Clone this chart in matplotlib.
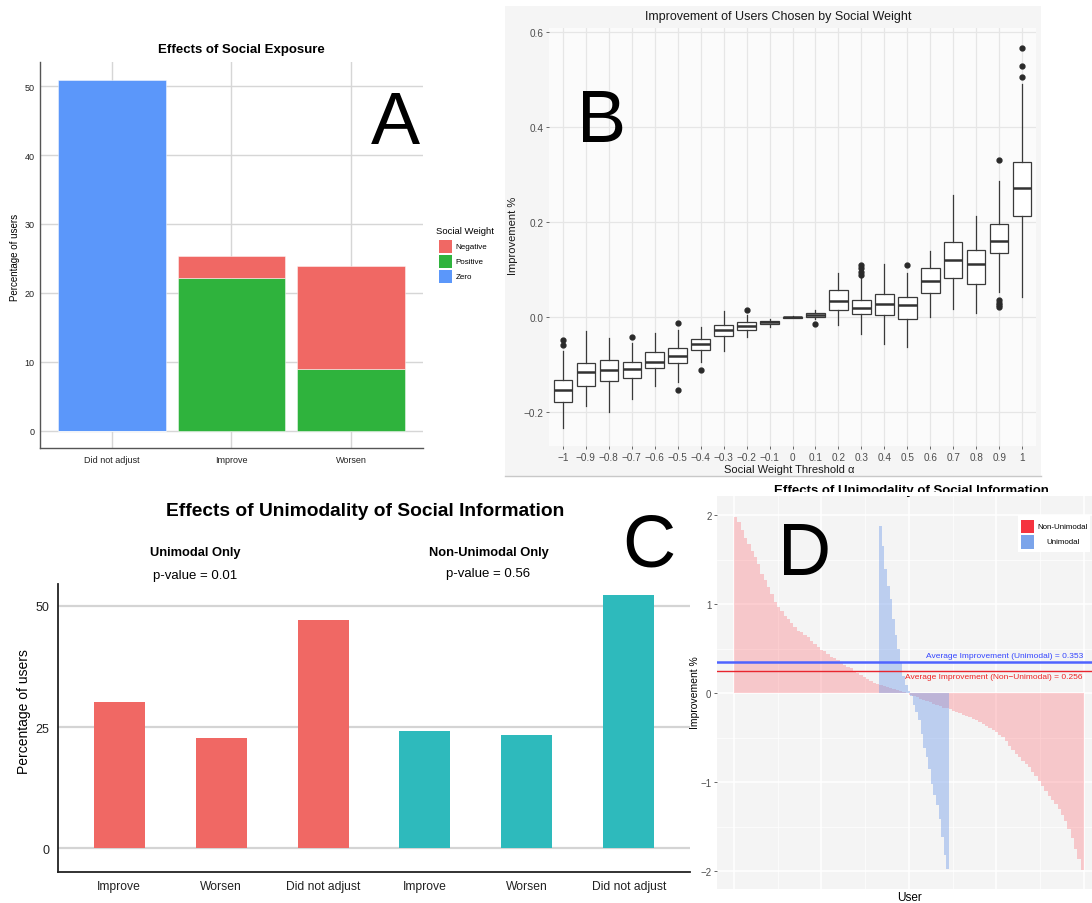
import numpy as np
import matplotlib
matplotlib.use('Agg')
import matplotlib.pyplot as plt
from matplotlib.patches import Rectangle
from matplotlib.lines import Line2D

W, H = 1092, 904
SANS = ['Liberation Sans', 'DejaVu Sans']
plt.rcParams['font.family'] = SANS

# ---------------- data ----------------
# Panel A
a_categories = ['Did not adjust', 'Improve', 'Worsen']
a_zero = [50.9, 0.0, 0.0]
a_positive = [0.0, 22.2, 9.0]
a_negative = [0.0, 3.1, 14.9]
a_yticks = [0, 10, 20, 30, 40, 50]
a_legend = ['Negative', 'Positive', 'Zero']

# Panel B (box plot statistics per threshold)
b_labels = ['−1', '−0.9', '−0.8', '−0.7', '−0.6', '−0.5', '−0.4', '−0.3', '−0.2', '−0.1',
            '0', '0.1', '0.2', '0.3', '0.4', '0.5', '0.6', '0.7', '0.8', '0.9', '1']
b_whishi = [-0.070, -0.029, -0.044, -0.054, -0.034, -0.027, -0.020, 0.013, 0.005, -0.004,
            0.002, 0.016, 0.094, 0.085, 0.112, 0.094, 0.140, 0.257, 0.213, 0.286, 0.491]
b_q3 = [-0.132, -0.097, -0.090, -0.095, -0.073, -0.064, -0.046, -0.016, -0.009, -0.008,
        0.001, 0.008, 0.057, 0.037, 0.050, 0.042, 0.103, 0.159, 0.141, 0.196, 0.327]
b_med = [-0.154, -0.116, -0.112, -0.109, -0.094, -0.081, -0.056, -0.027, -0.018, -0.011,
         0.000, 0.005, 0.034, 0.019, 0.027, 0.026, 0.076, 0.120, 0.112, 0.161, 0.272]
b_q1 = [-0.178, -0.144, -0.134, -0.128, -0.106, -0.096, -0.069, -0.040, -0.026, -0.015,
        -0.001, 0.000, 0.016, 0.007, 0.004, -0.003, 0.052, 0.082, 0.070, 0.136, 0.213]
b_whislo = [-0.234, -0.186, -0.199, -0.172, -0.144, -0.136, -0.094, -0.071, -0.041, -0.020,
            -0.002, -0.004, -0.016, -0.036, -0.056, -0.062, 0.001, 0.017, 0.010, 0.054, 0.043]
b_fliers = [[-0.048, -0.058], [], [], [-0.041], [], [-0.013, -0.153], [-0.110], [], [0.015], [],
            [], [-0.014], [], [0.110, 0.103, 0.096, 0.089], [], [0.110], [], [], [],
            [0.331, 0.036, 0.031, 0.026, 0.021], [0.566, 0.528, 0.505]]
b_yticks = [-0.2, 0.0, 0.2, 0.4, 0.6]
b_yticklabels = ['−0.2', '0.0', '0.2', '0.4', '0.6']

# Panel C
c_outcomes = ['Improve', 'Worsen', 'Did not adjust']
c_unimodal = [30.1, 22.8, 47.0]
c_nonunimodal = [24.2, 23.4, 52.3]
c_yticks = [0, 25, 50]

# Panel D (sorted improvement per user)
d_nonunimodal = [1.98, 1.92, 1.83, 1.75, 1.68, 1.60, 1.53, 1.45, 1.34, 1.27, 1.19, 1.12, 1.03,
                 0.97, 0.92, 0.87, 0.84, 0.79, 0.74, 0.70, 0.69, 0.66, 0.63, 0.59, 0.55, 0.52,
                 0.49, 0.47, 0.44, 0.41, 0.40, 0.37, 0.35, 0.32, 0.30, 0.28, 0.25, 0.23, 0.21,
                 0.18, 0.16, 0.14, 0.12, 0.10, 0.09, 0.08, 0.07, 0.06, 0.045, 0.035, 0.026,
                 0.019, 0.008,
                 -0.015, -0.03, -0.045, -0.06, -0.07, -0.085, -0.10, -0.115, -0.13, -0.145,
                 -0.16, -0.17, -0.18, -0.195, -0.21, -0.225, -0.24, -0.255, -0.27, -0.285,
                 -0.30, -0.32, -0.34, -0.365, -0.39, -0.415, -0.44, -0.465, -0.49, -0.54,
                 -0.59, -0.635, -0.68, -0.72, -0.76, -0.795, -0.83, -0.88, -0.93, -0.985,
                 -1.04, -1.095, -1.15, -1.195, -1.24, -1.30, -1.37, -1.44, -1.52, -1.63,
                 -1.75, -1.86, -1.99]
d_unimodal = [1.88, 1.66, 1.40, 1.21, 1.06, 0.84, 0.65, 0.50, 0.35, 0.20, 0.09, 0.03, -0.03,
              -0.13, -0.21, -0.30, -0.46, -0.61, -0.72, -0.85, -1.02, -1.14, -1.25, -1.41,
              -1.62, -1.82, -1.97]
d_avg_unimodal = 0.353
d_avg_nonunimodal = 0.256
d_yticks = [-2, -1, 0, 1, 2]
d_yticklabels = ['−2', '−1', '0', '1', '2']

# ---------------- helpers ----------------
fig = plt.figure(figsize=(W / 100, H / 100), dpi=100)


def box(x0, y0, x1, y1):
    return [x0 / W, 1 - y1 / H, (x1 - x0) / W, (y1 - y0) / H]


def ftext(x, y, s, **kw):
    return fig.text(x / W, 1 - y / H, s, **kw)


def frect(x0, y0, x1, y1, color, z=10, **kw):
    r = Rectangle((x0 / W, 1 - y1 / H), (x1 - x0) / W, (y1 - y0) / H,
                  transform=fig.transFigure, facecolor=color, edgecolor='none', zorder=z, **kw)
    fig.patches.append(r)
    return r


# ---------------- Panel A ----------------
colA = {'Negative': '#F06864', 'Positive': '#2FB33D', 'Zero': '#5B97FA'}
axA = fig.add_axes(box(40, 63, 423, 449))
xa = np.arange(len(a_categories))
ek = dict(edgecolor=(1, 1, 1, 0.55), linewidth=0.6, zorder=2)
axA.bar(xa, a_zero, 0.9, color=colA['Zero'], **ek)
axA.bar(xa, a_positive, 0.9, color=colA['Positive'], **ek)
axA.bar(xa, a_negative, 0.9, bottom=a_positive, color=colA['Negative'], **ek)
axA.set_xlim(-0.6, 2.6)
axA.set_ylim(-2.5, 53.5)
axA.set_yticks(a_yticks)
axA.set_xticks(xa, a_categories)
axA.grid(True, color='#D6D6D6', lw=1.0, zorder=0)
axA.set_axisbelow(True)
axA.tick_params(length=0, labelsize=6.5, colors='#222222')
axA.tick_params(axis='y', pad=4)
axA.tick_params(axis='x', pad=5)
for s in ['top', 'right']:
    axA.spines[s].set_visible(False)
for s in ['left', 'bottom']:
    axA.spines[s].set_color('#555555')
    axA.spines[s].set_linewidth(1.0)
ftext(241, 50, 'Effects of Social Exposure', ha='center', va='center', fontsize=9.5, fontweight='bold')
ftext(15, 257, 'Percentage of users', ha='center', va='center', rotation=90, fontsize=7)
ftext(395, 144.3, 'A', ha='center', va='baseline', fontsize=53)
# legend A
ftext(436, 232, 'Social Weight', ha='left', va='center', fontsize=6.8)
for i, lab in enumerate(a_legend):
    y0 = 240.7 + i * 15
    frect(439, y0, 452, y0 + 13, colA[lab])
    ftext(455.5, y0 + 6.5, lab, ha='left', va='center', fontsize=5.8)

# ---------------- Panel B ----------------
frect(505, 7, 1041, 477, '#F5F5F5', z=-5)
fig.lines.append(Line2D([505 / W, 1041 / W], [1 - 477 / H] * 2, transform=fig.transFigure,
                        color='#C8C8C8', lw=1.0))
axB = fig.add_axes(box(549, 28.5, 1036, 447))
axB.set_facecolor('#FBFBFB')
stats = [dict(med=b_med[i], q1=b_q1[i], q3=b_q3[i], whislo=b_whislo[i], whishi=b_whishi[i],
              fliers=b_fliers[i]) for i in range(len(b_labels))]
xb = np.arange(len(b_labels))
axB.bxp(stats, positions=xb, widths=0.8, patch_artist=True, showcaps=False,
        boxprops=dict(facecolor='white', edgecolor='#3A3A3A', linewidth=0.9),
        medianprops=dict(color='#333333', linewidth=1.8),
        whiskerprops=dict(color='#3A3A3A', linewidth=0.9),
        flierprops=dict(marker='o', markerfacecolor='#2A2A2A', markeredgecolor='#2A2A2A',
                        markersize=3.5))
axB.set_xlim(-0.6, 20.6)
axB.set_ylim(-0.271, 0.610)
axB.set_xticks(xb, b_labels)
axB.set_yticks(b_yticks, b_yticklabels)
axB.grid(True, color='#E6E6E6', lw=0.9)
axB.set_axisbelow(True)
for s in axB.spines.values():
    s.set_visible(False)
axB.tick_params(length=2.5, width=0.7, color='#666666', labelsize=7.2, labelcolor='#4D4D4D', pad=1.5)
ftext(778, 17, 'Improvement of Users Chosen by Social Weight', ha='center', va='center',
      fontsize=9, color='#1A1A1A')
ftext(513, 236, 'Improvement %', ha='center', va='center', rotation=90, fontsize=8, color='#1A1A1A')
ftext(789, 470, 'Social Weight Threshold α', ha='center', va='center', fontsize=8, color='#1A1A1A')
ftext(602, 141.7, 'B', ha='center', va='baseline', fontsize=53)

# ---------------- Panel C ----------------
axC = fig.add_axes(box(58, 585, 690, 873))
nC = len(c_outcomes)
xc1 = np.arange(nC)
xc2 = np.arange(nC) + nC
axC.bar(xc1, c_unimodal, 0.5, color='#F06864', zorder=2)
axC.bar(xc2, c_nonunimodal, 0.5, color='#2EBABC', zorder=2)
axC.set_xlim(-0.6, 5.6)
axC.set_ylim(-4.9, 54.5)
axC.set_yticks(c_yticks)
axC.set_xticks(np.concatenate([xc1, xc2]), c_outcomes + c_outcomes)
axC.grid(True, axis='y', color='#D4D4D4', lw=1.6, zorder=0)
axC.set_axisbelow(True)
for s in ['top', 'right']:
    axC.spines[s].set_visible(False)
for s in ['left', 'bottom']:
    axC.spines[s].set_color('#222222')
    axC.spines[s].set_linewidth(1.3)
axC.tick_params(length=0, labelsize=8.7, colors='#222222')
axC.tick_params(axis='y', pad=6, labelsize=9)
axC.tick_params(axis='x', pad=6)
ftext(364.7, 511.7, 'Effects of Unimodality of Social Information', ha='center', va='center',
      fontsize=13.8, fontweight='bold')
ftext(195.5, 553, 'Unimodal Only', ha='center', va='center', fontsize=9.3, fontweight='bold')
ftext(195.5, 576, 'p-value = 0.01', ha='center', va='center', fontsize=9.5)
ftext(488.5, 553, 'Non-Unimodal Only', ha='center', va='center', fontsize=9.3, fontweight='bold')
ftext(488.5, 574.5, 'p-value = 0.56', ha='center', va='center', fontsize=9.5)
ftext(24, 712, 'Percentage of users', ha='center', va='center', rotation=90, fontsize=10)
ftext(649, 567, 'C', ha='center', va='baseline', fontsize=53)

# ---------------- Panel D ----------------
axD = fig.add_axes(box(717, 497, 1092, 890))
axD.set_facecolor('#F4F4F4')
n_r = len(d_nonunimodal)
n_b = len(d_unimodal)
r_edges = np.linspace(0.0, 1.0, n_r + 1)
b_edges = np.linspace(0.415, 0.614, n_b + 1)
axD.bar(r_edges[:-1], d_nonunimodal, width=np.diff(r_edges), align='edge',
        color='#FF2A35', alpha=0.22, linewidth=0, zorder=2)
axD.bar(b_edges[:-1], d_unimodal, width=np.diff(b_edges), align='edge',
        color='#6F9AEA', alpha=0.42, linewidth=0, zorder=3)
axD.axhline(d_avg_unimodal, color='#4F63FF', lw=1.8, zorder=4)
axD.axhline(d_avg_nonunimodal, color='#E8252E', lw=1.0, zorder=4)
axD.text(0.997, 0.43, 'Average Improvement (Unimodal) = %.3f' % d_avg_unimodal,
         ha='right', va='center', fontsize=6, color='#3344FF', zorder=5)
axD.text(0.997, 0.187, 'Average Improvement (Non−Unimodal) = %.3f' % d_avg_nonunimodal,
         ha='right', va='center', fontsize=6, color='#EE2222', zorder=5)
axD.set_xlim(-0.0486, 1.023)
axD.set_ylim(-2.199, 2.217)
axD.set_yticks(d_yticks, d_yticklabels)
axD.set_yticks([-1.5, -0.5, 0.5, 1.5], minor=True)
axD.set_xticks([0, 0.25, 0.5, 0.75, 1.0], ['', '', '', '', ''])
axD.set_xticks([0.125, 0.375, 0.625, 0.875], minor=True)
axD.grid(True, which='major', color='white', lw=1.1, zorder=0)
axD.grid(True, which='minor', color='white', lw=0.5, zorder=0)
axD.set_axisbelow(True)
for s in axD.spines.values():
    s.set_visible(False)
axD.tick_params(axis='y', which='major', length=2.5, width=0.7, color='#666666', labelsize=7,
                labelcolor='#4D4D4D', pad=1.5)
axD.tick_params(axis='x', which='both', length=0)
axD.tick_params(axis='y', which='minor', length=0)
ftext(911, 494.5, 'Effects of Unimodality of Social Information', ha='center', va='baseline',
      fontsize=9.5, fontweight='bold')
frect(700, 493.3, 1092, 497, 'white', z=20)
ftext(695, 693, 'Improvement %', ha='center', va='center', rotation=90, fontsize=7.5)
ftext(910, 898, 'User', ha='center', va='center', fontsize=8.5)
ftext(805, 575, 'D', ha='center', va='baseline', fontsize=53, zorder=15)
# legend D
frect(1018, 516, 1090, 553, 'white', z=12)
frect(1020.7, 520.7, 1034.3, 534.3, '#F5333F', z=13)
frect(1020.7, 536, 1034.3, 550, '#7BA4EA', z=13)
ftext(1062.5, 527.5, 'Non-Unimodal', ha='center', va='center', fontsize=5.7, zorder=14)
ftext(1063, 543, 'Unimodal', ha='center', va='center', fontsize=5.7, zorder=14)

fig.savefig('out.png', dpi=100)
